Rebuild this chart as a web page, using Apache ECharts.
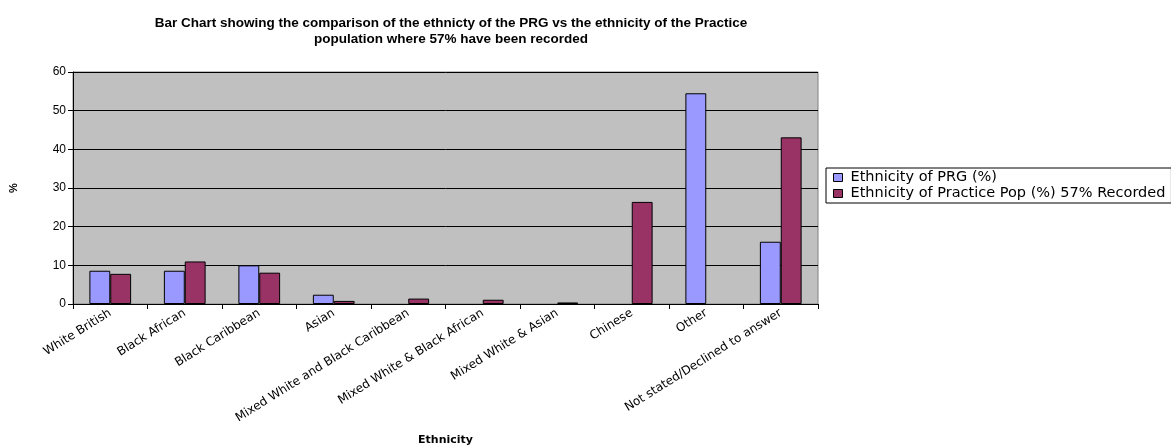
<!DOCTYPE html>
<html>
<head>
<meta charset="utf-8">
<script src="https://cdn.jsdelivr.net/npm/echarts@6/dist/echarts.min.js"></script>
<style>
  html, body { margin: 0; padding: 0; background: #ffffff; }
  #chart { width: 1171px; height: 445px; }
</style>
</head>
<body>
<div id="chart"></div>
<script>
// Ethnicity categories along the x axis
var categories = [
  'White British', 'Black African', 'Black Caribbean', 'Asian',
  'Mixed White and Black Caribbean', 'Mixed White & Black African',
  'Mixed White & Asian', 'Chinese', 'Other', 'Not stated/Declined to answer'
];
// Percentages for each group (null = no bar recorded)
var prgValues = [8.6, 8.6, 10.0, 2.4, null, null, null, null, 54.5, 16.1];
var practiceValues = [7.8, 11.0, 8.1, 0.8, 1.4, 1.1, 0.4, 26.4, null, 43.1];
var seriesNames = ['Ethnicity of PRG (%)', 'Ethnicity of Practice Pop (%) 57% Recorded'];
var yTicks = [0, 10, 20, 30, 40, 50, 60];

var font = 'Liberation Sans, Arial, sans-serif';
var wideFont = 'DejaVu Sans, Liberation Sans, sans-serif';
var chart = echarts.init(document.getElementById('chart'));

chart.setOption({
  animation: false,
  backgroundColor: '#ffffff',
  textStyle: { fontFamily: font },
  title: {
    text: 'Bar Chart showing the comparison of the ethnicty of the PRG vs the ethnicity of the Practice\npopulation where 57% have been recorded',
    left: 446, top: 10, textAlign: 'center',
    textStyle: { fontSize: 13.5, fontWeight: 'bold', color: '#000', lineHeight: 16, fontFamily: font }
  },
  legend: {
    orient: 'vertical',
    left: 826, top: 168,
    itemWidth: 9, itemHeight: 8, itemGap: 1,
    padding: [2, 6, 2, 7],
    backgroundColor: '#ffffff',
    borderColor: '#000', borderWidth: 1,
    textStyle: { fontSize: 14.5, lineHeight: 14, color: '#000', padding: [0, 0, 0, 3], fontFamily: wideFont },
    data: seriesNames.map(function (n) { return { name: n, icon: 'rect', itemStyle: { borderColor: '#000', borderWidth: 1 } }; })
  },
  grid: {
    left: 73, right: 1171 - 818, top: 72, bottom: 445 - 304,
    outerBoundsMode: 'none', containLabel: false,
    show: true, backgroundColor: '#C0C0C0', borderColor: '#808080', borderWidth: 1
  },
  xAxis: {
    type: 'category',
    data: categories,
    name: 'Ethnicity', nameLocation: 'middle', nameGap: 131,
    nameTextStyle: { fontSize: 11, fontWeight: 'bold', color: '#000', fontFamily: wideFont },
    axisLine: { lineStyle: { color: '#000', width: 1 } },
    axisTick: { show: true, length: 5, lineStyle: { color: '#000' } },
    axisLabel: { interval: 0, rotate: 32, fontSize: 12, color: '#000', margin: 8, fontFamily: wideFont }
  },
  yAxis: {
    type: 'value', min: yTicks[0], max: yTicks[yTicks.length - 1], interval: 10,
    name: '%', nameLocation: 'middle', nameGap: 54, nameRotate: 90,
    nameTextStyle: { fontSize: 11, fontWeight: 'bold', color: '#000', fontFamily: font },
    axisLine: { show: true, lineStyle: { color: '#000', width: 1 } },
    axisTick: { show: true, length: 5, lineStyle: { color: '#000' } },
    axisLabel: { fontSize: 12, color: '#000', margin: 7, fontFamily: font },
    splitLine: { show: true, lineStyle: { color: '#000', width: 1 } }
  },
  series: [
    {
      name: seriesNames[0], type: 'bar', data: prgValues,
      barGap: '0%', barCategoryGap: '44%',
      itemStyle: { color: '#9999FF', borderColor: '#000', borderWidth: 1 }
    },
    {
      name: seriesNames[1], type: 'bar', data: practiceValues,
      barGap: '0%', barCategoryGap: '44%',
      itemStyle: { color: '#993366', borderColor: '#000', borderWidth: 1 }
    }
  ]
});
</script>
</body>
</html>
